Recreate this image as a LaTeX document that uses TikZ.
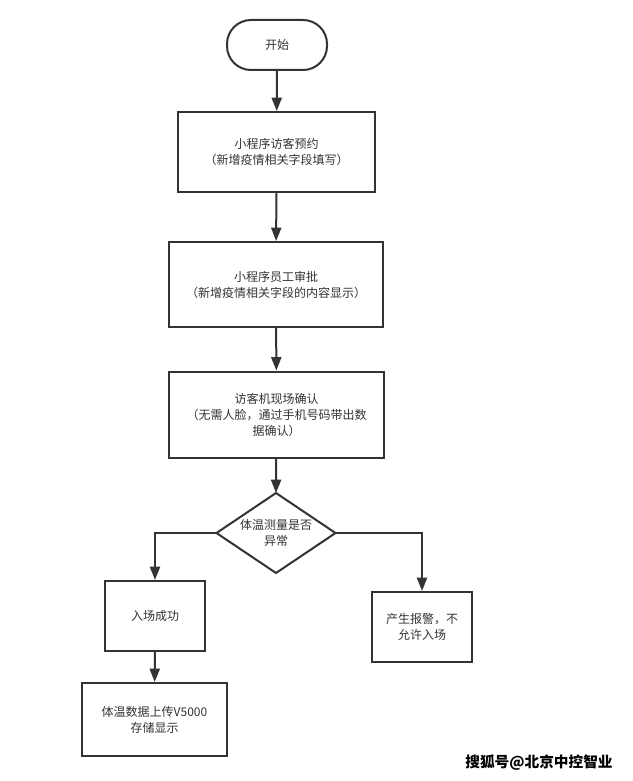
\documentclass[tikz,border=0pt]{standalone}
\usepackage{fontspec}
\setmainfont{Noto Sans CJK SC}
\newfontfamily\cjkbold{Noto Sans CJK SC}[FakeBold=0]
\usetikzlibrary{shapes.geometric,arrows.meta}
\definecolor{ln}{HTML}{333333}
\tikzset{
  x=0.75pt,y=-0.75pt,
  base/.style={draw=ln,line width=1.5pt,align=center,font=\fontsize{9}{12}\selectfont,text=ln,inner sep=0pt},
  boxnode/.style={base,rectangle},
  startnode/.style={base,rectangle,rounded corners=18pt},
  decnode/.style={base,diamond,aspect=1.5},
  conn/.style={draw=ln,line width=1.5pt,-{Triangle[length=10pt,width=7.5pt]}},
}
\begin{document}
\begin{tikzpicture}
\useasboundingbox (0,0) rectangle (632,781);
\fill[white] (0,0) rectangle (632,781);
\node[startnode,minimum width=100*0.75pt,minimum height=50*0.75pt] (s) at (277,45) {开始};
\node[boxnode,minimum width=197*0.75pt,minimum height=80*0.75pt] (b1) at (276.5,152) {小程序访客预约\\（新增疫情相关字段填写）};
\node[boxnode,minimum width=214*0.75pt,minimum height=85*0.75pt] (b2) at (276,284.5) {小程序员工审批\\（新增疫情相关字段的内容显示）};
\node[boxnode,minimum width=215*0.75pt,minimum height=86*0.75pt] (b3) at (276.5,414.5) {访客机现场确认\\（无需人脸，通过手机号码带出数\\据确认）};
\draw[draw=ln,line width=1.5pt,fill=white] (276,493) -- (335.5,533) -- (276,573) -- (216.5,533) -- cycle;
\coordinate (dt) at (276,493);
\coordinate (dl) at (216.5,533);
\coordinate (dr) at (335.5,533);
\node[font=\fontsize{9}{12}\selectfont,text=ln,align=center] (d) at (276,533) {体温测量是否\\异常};
\node[boxnode,minimum width=100*0.75pt,minimum height=70*0.75pt] (ok) at (155,616) {入场成功};
\node[boxnode,minimum width=145*0.75pt,minimum height=73*0.75pt] (up) at (154.5,719.5) {体温数据上传V5000\\存储显示};
\node[boxnode,minimum width=100*0.75pt,minimum height=70*0.75pt] (al) at (422,627) {产生报警，不\\允许入场};
\draw[conn] (s) -- (b1);
\draw[conn] (b1) -- (b2);
\draw[conn] (b2) -- (b3);
\draw[conn] (b3) -- (dt);
\draw[conn] (dl) -| (ok);
\draw[conn] (dr) -| (al);
\draw[conn] (ok) -- (up);
\node[font=\bfseries\fontsize{11}{13}\selectfont,text=black] (wm) at (539,763) {搜狐号@北京中控智业};
\end{tikzpicture}
\end{document}
